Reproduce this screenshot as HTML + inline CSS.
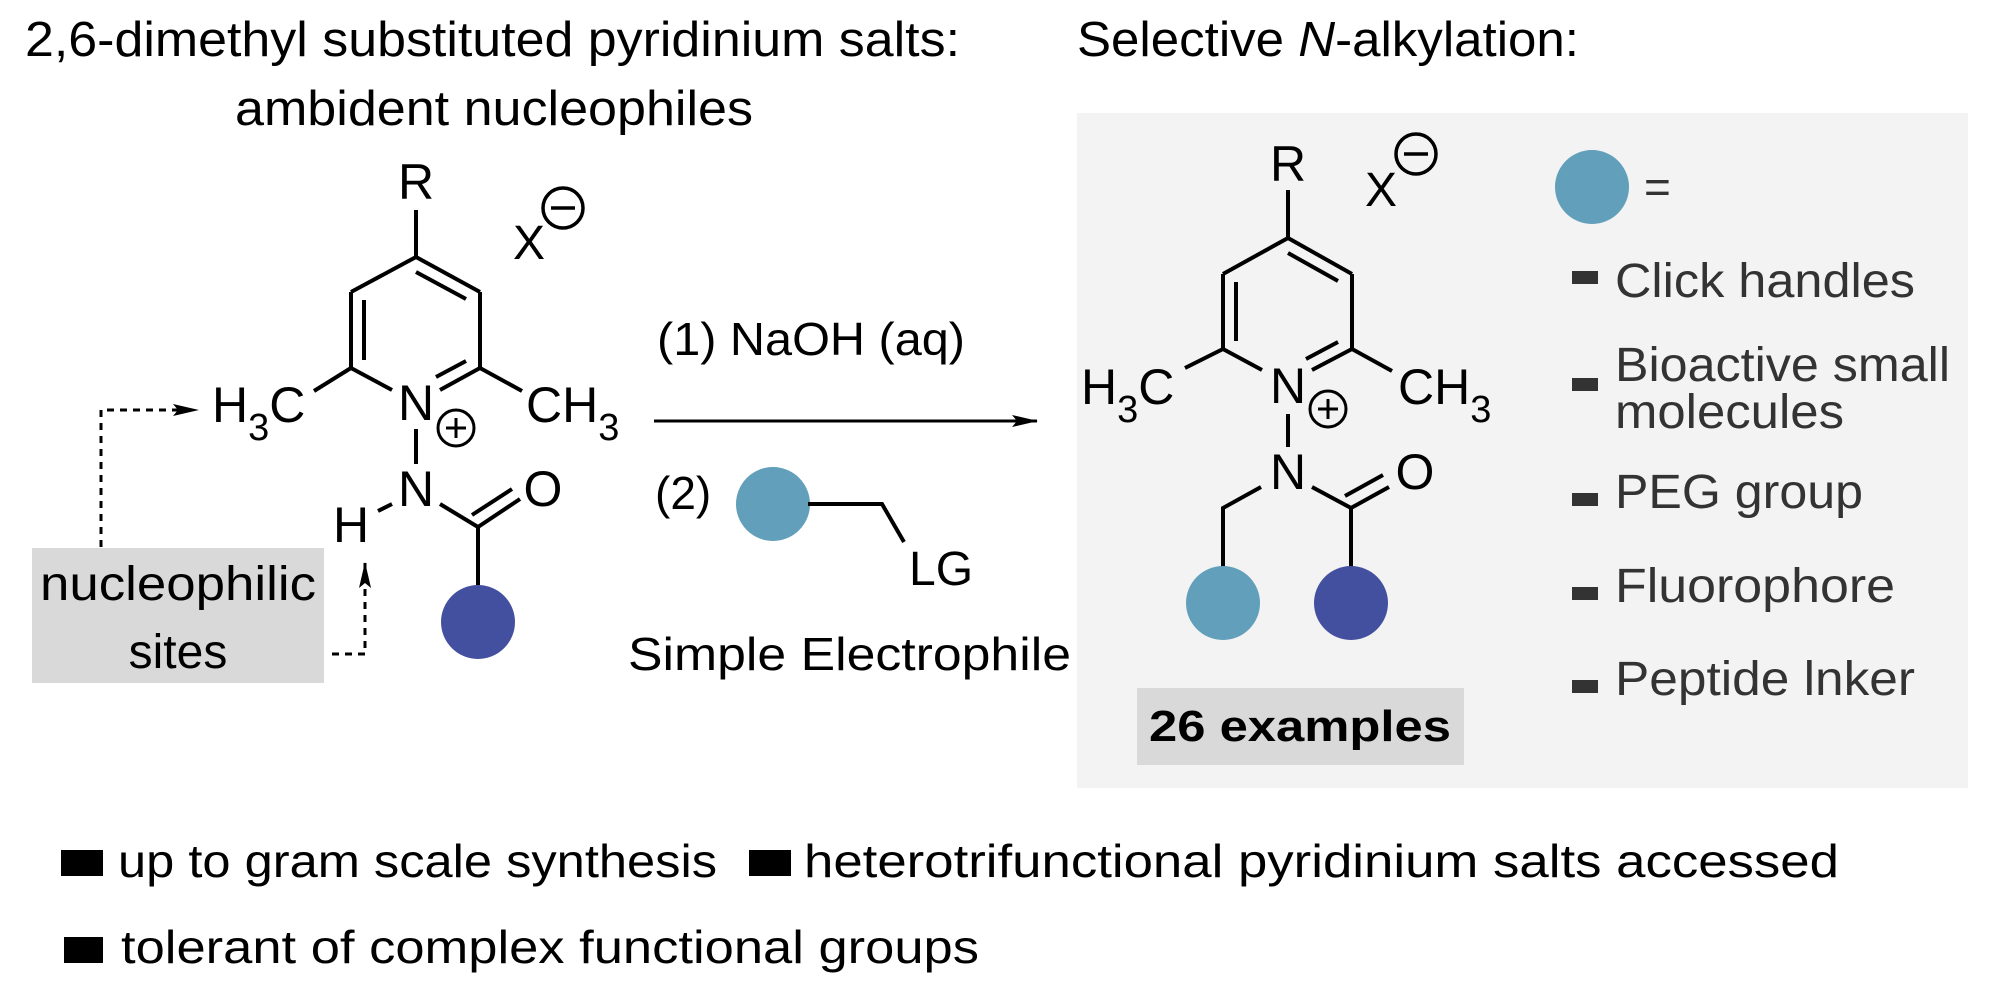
<!DOCTYPE html>
<html><head><meta charset="utf-8"><style>
html,body{margin:0;padding:0;background:#fff;}
svg{display:block;}
text{font-family:"Liberation Sans",sans-serif;fill:#000;}
</style></head><body>
<svg width="2000" height="995" viewBox="0 0 2000 995" xmlns="http://www.w3.org/2000/svg">
<defs>
<marker id="ah2" markerWidth="26" markerHeight="12" refX="25" refY="6" orient="auto" markerUnits="userSpaceOnUse">
<path d="M0,0 L26,6 L0,12 L5,6 Z" fill="#000"/></marker>
</defs>

<!-- Titles -->
<text x="25" y="56" font-size="49" textLength="935" lengthAdjust="spacingAndGlyphs">2,6-dimethyl substituted pyridinium salts:</text>
<text x="235" y="125" font-size="49" textLength="518" lengthAdjust="spacingAndGlyphs">ambident nucleophiles</text>
<text x="1077" y="56" font-size="49" textLength="502" lengthAdjust="spacingAndGlyphs">Selective <tspan font-style="italic">N</tspan>-alkylation:</text>

<!-- Left molecule -->
<g stroke="#000" stroke-width="4" fill="none" stroke-linecap="butt">
<line x1="416" y1="210" x2="416" y2="257"/>
<line x1="416" y1="257" x2="351" y2="292"/>
<line x1="416" y1="257" x2="480" y2="292"/>
<line x1="416" y1="272" x2="466" y2="299"/>
<line x1="351" y1="292" x2="351" y2="368"/>
<line x1="364" y1="300" x2="364" y2="360"/>
<line x1="480" y1="292" x2="480" y2="368"/>
<line x1="351" y1="368" x2="392" y2="390"/>
<line x1="480" y1="368" x2="440" y2="390"/>
<line x1="466" y1="361" x2="436" y2="377"/>
<line x1="351" y1="368" x2="314" y2="391"/>
<line x1="480" y1="368" x2="522" y2="391"/>
<line x1="416" y1="429" x2="416" y2="464"/>
<line x1="378" y1="511" x2="392" y2="504"/>
<line x1="440" y1="504" x2="478" y2="527"/>
<line x1="478" y1="527" x2="520" y2="499"/>
<line x1="472" y1="515" x2="512" y2="489"/>
<line x1="478" y1="527" x2="478" y2="585"/>
</g>
<text x="416" y="199" font-size="50" text-anchor="middle">R</text>
<text x="513" y="259" font-size="48">X</text>
<circle cx="563" cy="208" r="20" fill="none" stroke="#000" stroke-width="3.5"/>
<line x1="551" y1="208" x2="575" y2="208" stroke="#000" stroke-width="3.5"/>
<text x="212" y="422" font-size="50">H<tspan font-size="38" dy="18">3</tspan><tspan dy="-18">C</tspan></text>
<text x="526" y="422" font-size="50">CH<tspan font-size="38" dy="18">3</tspan></text>
<text x="416" y="420" font-size="50" text-anchor="middle">N</text>
<circle cx="456" cy="428" r="18" fill="none" stroke="#000" stroke-width="3"/>
<line x1="446" y1="428" x2="466" y2="428" stroke="#000" stroke-width="3"/>
<line x1="456" y1="418" x2="456" y2="438" stroke="#000" stroke-width="3"/>
<text x="416" y="506" font-size="50" text-anchor="middle">N</text>
<text x="351" y="542" font-size="50" text-anchor="middle">H</text>
<text x="543" y="506" font-size="50" text-anchor="middle">O</text>
<circle cx="478" cy="622" r="37" fill="#434f9f"/>

<!-- dashed arrows -->
<rect x="32" y="548" width="292" height="135" fill="#d9d9d9"/>
<text x="178" y="600" font-size="48" text-anchor="middle" textLength="276" lengthAdjust="spacingAndGlyphs">nucleophilic</text>
<text x="178" y="668" font-size="48" text-anchor="middle">sites</text>
<path d="M101,547 L101,410 L198,410" fill="none" stroke="#000" stroke-width="3" stroke-dasharray="7,6" marker-end="url(#ah2)"/>
<path d="M332,654 L365,654 L365,563" fill="none" stroke="#000" stroke-width="3" stroke-dasharray="7,6" marker-end="url(#ah2)"/>

<!-- Reaction arrow -->
<line x1="654" y1="421" x2="1037" y2="421" stroke="#000" stroke-width="3" marker-end="url(#ah2)"/>
<text x="657" y="355" font-size="46" textLength="308" lengthAdjust="spacingAndGlyphs">(1) NaOH (aq)</text>
<text x="655" y="509" font-size="46">(2)</text>
<circle cx="773" cy="504" r="37" fill="#619fba"/>
<path d="M808,504 L882,504 L904,542" fill="none" stroke="#000" stroke-width="4"/>
<text x="909" y="585" font-size="48">LG</text>
<text x="628" y="670" font-size="46" textLength="443" lengthAdjust="spacingAndGlyphs">Simple Electrophile</text>

<!-- Right panel -->
<rect x="1077" y="113" width="891" height="675" fill="#f3f3f3"/>
<g stroke="#000" stroke-width="4" fill="none">
<line x1="1288" y1="190" x2="1288" y2="238"/>
<line x1="1288" y1="238" x2="1223" y2="274"/>
<line x1="1288" y1="238" x2="1352" y2="274"/>
<line x1="1288" y1="253" x2="1338" y2="281"/>
<line x1="1223" y1="274" x2="1223" y2="349"/>
<line x1="1236" y1="282" x2="1236" y2="341"/>
<line x1="1352" y1="274" x2="1352" y2="349"/>
<line x1="1223" y1="349" x2="1262" y2="370"/>
<line x1="1352" y1="349" x2="1312" y2="370"/>
<line x1="1338" y1="342" x2="1306" y2="359"/>
<line x1="1223" y1="349" x2="1185" y2="368"/>
<line x1="1352" y1="349" x2="1392" y2="371"/>
<line x1="1288" y1="414" x2="1288" y2="447"/>
<path d="M1261,487 L1223,508 L1223,568"/>
<path d="M1312,487 L1351,508 L1351,568"/>
<line x1="1351" y1="508" x2="1389" y2="487"/>
<line x1="1345" y1="496" x2="1383" y2="475"/>
</g>
<text x="1288" y="181" font-size="50" text-anchor="middle">R</text>
<text x="1365" y="206" font-size="48">X</text>
<circle cx="1416" cy="154" r="20" fill="none" stroke="#000" stroke-width="3.5"/>
<line x1="1404" y1="154" x2="1428" y2="154" stroke="#000" stroke-width="3.5"/>
<text x="1081" y="404" font-size="50">H<tspan font-size="38" dy="18">3</tspan><tspan dy="-18">C</tspan></text>
<text x="1398" y="404" font-size="50">CH<tspan font-size="38" dy="18">3</tspan></text>
<text x="1288" y="403" font-size="50" text-anchor="middle">N</text>
<circle cx="1328" cy="409" r="18" fill="none" stroke="#000" stroke-width="3"/>
<line x1="1318" y1="409" x2="1338" y2="409" stroke="#000" stroke-width="3"/>
<line x1="1328" y1="399" x2="1328" y2="419" stroke="#000" stroke-width="3"/>
<text x="1288" y="489" font-size="50" text-anchor="middle">N</text>
<text x="1415" y="489" font-size="50" text-anchor="middle">O</text>
<circle cx="1223" cy="603" r="37" fill="#619fba"/>
<circle cx="1351" cy="603" r="37" fill="#434f9f"/>
<rect x="1137" y="688" width="327" height="77" fill="#d9d9d9"/>
<text x="1149" y="741" font-size="44" font-weight="bold" textLength="302" lengthAdjust="spacingAndGlyphs">26 examples</text>

<circle cx="1592" cy="187" r="37" fill="#619fba"/>
<text x="1644" y="203" font-size="46" style="fill:#333">=</text>
<g fill="#333">
<rect x="1572" y="271" width="26" height="13"/>
<rect x="1572" y="378" width="26" height="13"/>
<rect x="1572" y="493" width="26" height="13"/>
<rect x="1572" y="587" width="26" height="13"/>
<rect x="1572" y="680" width="26" height="13"/>
</g>
<g font-size="48">
<text x="1615" y="297" textLength="300" lengthAdjust="spacingAndGlyphs" style="fill:#333">Click handles</text>
<text x="1615" y="381" textLength="335" lengthAdjust="spacingAndGlyphs" style="fill:#333">Bioactive small</text>
<text x="1615" y="428" textLength="229" lengthAdjust="spacingAndGlyphs" style="fill:#333">molecules</text>
<text x="1615" y="508" textLength="248" lengthAdjust="spacingAndGlyphs" style="fill:#333">PEG group</text>
<text x="1615" y="602" textLength="280" lengthAdjust="spacingAndGlyphs" style="fill:#333">Fluorophore</text>
<text x="1615" y="695" textLength="300" lengthAdjust="spacingAndGlyphs" style="fill:#333">Peptide lnker</text>
</g>

<!-- bottom bullets -->
<rect x="61" y="850" width="42" height="26" fill="#000"/>
<text x="118" y="877" font-size="46" textLength="599" lengthAdjust="spacingAndGlyphs">up to gram scale synthesis</text>
<rect x="749" y="850" width="42" height="26" fill="#000"/>
<text x="804" y="877" font-size="46" textLength="1035" lengthAdjust="spacingAndGlyphs">heterotrifunctional pyridinium salts accessed</text>
<rect x="64" y="937" width="39" height="26" fill="#000"/>
<text x="121" y="963" font-size="46" textLength="858" lengthAdjust="spacingAndGlyphs">tolerant of complex functional groups</text>
</svg>
</body></html>
